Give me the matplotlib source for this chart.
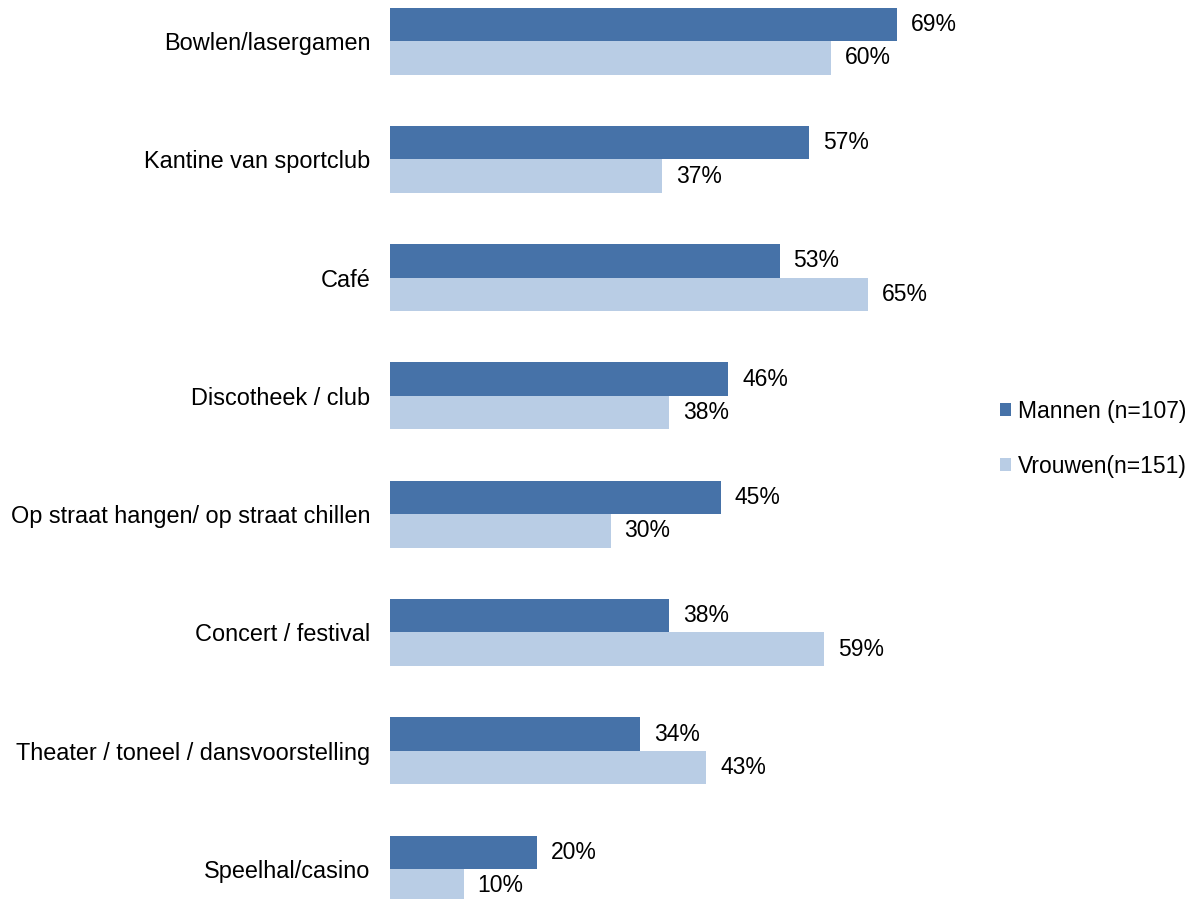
import numpy as np
import matplotlib.pyplot as plt

plt.rcParams['font.family'] = ['Liberation Sans', 'DejaVu Sans']

# data
categories = ['Bowlen/lasergamen', 'Kantine van sportclub', 'Café', 'Discotheek / club',
              'Op straat hangen/ op straat chillen', 'Concert / festival',
              'Theater / toneel / dansvoorstelling', 'Speelhal/casino']
mannen = [69, 57, 53, 46, 45, 38, 34, 20]
vrouwen = [60, 37, 65, 38, 30, 59, 43, 10]
series_labels = ['Mannen (n=107)', 'Vrouwen(n=151)']

dark = '#4672A8'
light = '#B9CDE5'
fs = 16.5

fig = plt.figure(figsize=(12.02, 8.99), dpi=100)
# axes placed so that 0% sits at x=390px, ~7.35 px per percent
ax = fig.add_axes([390/1202, 0, 588/1202, 1])

y = np.arange(len(categories))
h = 0.283
b1 = ax.barh(y - h/2, mannen, height=h, color=dark, label=series_labels[0])
b2 = ax.barh(y + h/2, vrouwen, height=h, color=light, label=series_labels[1])

for bars, vals in ((b1, mannen), (b2, vrouwen)):
    for bar, v in zip(bars, vals):
        ax.text(bar.get_width() + 1.9, bar.get_y() + bar.get_height()/2, f'{v}%',
                va='center', ha='left', fontsize=fs)

ax.set_xlim(0, 80)
ax.set_ylim(7.253, -0.347)
ax.set_yticks(y)
ax.set_yticklabels(categories, fontsize=16.9)
ax.tick_params(axis='y', length=0, pad=14)
ax.set_xticks([])
for s in ax.spines.values():
    s.set_visible(False)

fig.legend(handles=[b1, b2], loc='center left', bbox_to_anchor=(979/1202, 1 - 439/899),
           frameon=False, fontsize=fs, handlelength=0.5, handleheight=0.5,
           handletextpad=0.3, labelspacing=1.4)

fig.savefig('out.png', dpi=100)
